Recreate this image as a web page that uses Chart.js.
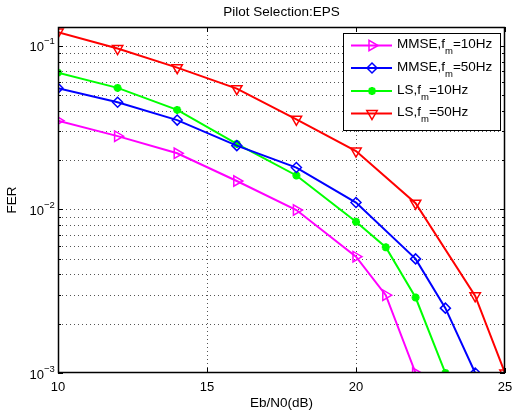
<!DOCTYPE html>
<html>
<head>
<meta charset="utf-8">
<script src="https://cdn.jsdelivr.net/npm/chart.js@4"></script>
<style>
  body { margin: 0; background: #fff; }
  #wrap { width: 513px; height: 417px; }
</style>
</head>
<body>
<div id="wrap"><canvas id="ferChart" width="513" height="417"></canvas></div>
<script>
// values
const ebn0Mmse10 = [10, 12, 14, 16, 18, 20, 21, 22];
const ferMmse10 = [0.0348, 0.028, 0.022, 0.0149, 0.0099, 0.00514, 0.00299, 0.001];
const ebn0Mmse50 = [10, 12, 14, 16, 18, 20, 22, 23, 24];
const ferMmse50 = [0.055, 0.0451, 0.0351, 0.0245, 0.018, 0.011, 0.00498, 0.00249, 0.001];
const ebn0Ls10 = [10, 12, 14, 16, 18, 20, 21, 22, 23];
const ferLs10 = [0.0684, 0.0552, 0.0405, 0.0251, 0.0161, 0.0084, 0.00587, 0.00289, 0.001];
const ebn0Ls50 = [10, 12, 14, 16, 18, 20, 22, 24, 25];
const ferLs50 = [0.121, 0.096, 0.0734, 0.0546, 0.0355, 0.0227, 0.0109, 0.00296, 0.001];

const xTicks = [10, 15, 20, 25];
const yDecades = [-3, -2, -1];
const seriesNames = ['MMSE', 'MMSE', 'LS', 'LS'];
const seriesFreq = ['10Hz', '50Hz', '10Hz', '50Hz'];

const FONT = '"Liberation Sans", Arial, sans-serif';

const toPoints = (xs, ys) => xs.map((x, i) => ({ x: x, y: ys[i] }));

const mkSet = (xs, ys, color, style, rot, radius) => ({
    data: toPoints(xs, ys),
    borderColor: color,
    backgroundColor: 'rgba(0,0,0,0)',
    borderWidth: 2,
    pointStyle: style,
    pointRotation: rot,
    pointRadius: radius,
    pointBorderColor: color,
    pointBackgroundColor: 'rgba(0,0,0,0)',
    pointBorderWidth: 1.5,
    tension: 0
});

const datasets = [
    mkSet(ebn0Mmse10, ferMmse10, '#ff00ff', 'triangle', 90, 6),
    mkSet(ebn0Mmse50, ferMmse50, '#0000ff', 'rectRot', 0, 5),
    mkSet(ebn0Ls10, ferLs10, '#00ff00', 'star', 0, 4),
    mkSet(ebn0Ls50, ferLs50, '#ff0000', 'triangle', 180, 6)
];
datasets[2].pointBorderWidth = 2.5;

// grid, box, ticks and labels done by hand, MATLAB style
const matlabAxes = {
    id: 'matlabAxes',
    beforeDatasetsDraw(chart) {
        const ctx = chart.ctx;
        const a = chart.chartArea;
        const xs = chart.scales.x, ys = chart.scales.y;
        ctx.save();
        ctx.strokeStyle = '#555';
        ctx.lineWidth = 1;
        ctx.setLineDash([1, 3]);
        xTicks.slice(1, -1).forEach(v => {
            const px = Math.round(xs.getPixelForValue(v)) + 0.5;
            ctx.beginPath(); ctx.moveTo(px, a.top); ctx.lineTo(px, a.bottom); ctx.stroke();
        });
        yDecades.forEach(d => {
            for (let k = 1; k <= 9; k++) {
                const v = k * Math.pow(10, d);
                if (v <= ys.min || v >= ys.max) continue;
                const py = Math.round(ys.getPixelForValue(v)) + 0.5;
                ctx.beginPath(); ctx.moveTo(a.left, py); ctx.lineTo(a.right, py); ctx.stroke();
            }
        });
        ctx.restore();
    },
    afterDraw(chart) {
        const ctx = chart.ctx;
        const a = chart.chartArea;
        const xs = chart.scales.x, ys = chart.scales.y;
        ctx.save();
        ctx.strokeStyle = '#000';
        ctx.lineWidth = 1.5;
        ctx.strokeRect(a.left + 0.5, a.top + 0.5, a.right - a.left - 1, a.bottom - a.top - 1);
        ctx.lineWidth = 1;
        ctx.beginPath();
        xTicks.forEach(v => {
            const px = Math.round(xs.getPixelForValue(v)) + 0.5;
            ctx.moveTo(px, a.bottom); ctx.lineTo(px, a.bottom - 5);
            ctx.moveTo(px, a.top); ctx.lineTo(px, a.top + 5);
        });
        yDecades.forEach(d => {
            for (let k = 1; k <= 9; k++) {
                const v = k * Math.pow(10, d);
                if (v < ys.min || v > ys.max) continue;
                const py = Math.round(ys.getPixelForValue(v)) + 0.5;
                const len = k == 1 ? 5 : 3;
                ctx.moveTo(a.left, py); ctx.lineTo(a.left + len, py);
                ctx.moveTo(a.right, py); ctx.lineTo(a.right - len, py);
            }
        });
        ctx.stroke();

        ctx.fillStyle = '#000';
        ctx.font = '13px ' + FONT;
        ctx.textAlign = 'center';
        ctx.textBaseline = 'middle';
        xTicks.forEach(v => {
            ctx.fillText(String(v), xs.getPixelForValue(v), a.bottom + 14);
        });
        yDecades.forEach(d => {
            const py = ys.getPixelForValue(Math.pow(10, d));
            ctx.font = '13px ' + FONT;
            ctx.textAlign = 'right';
            ctx.fillText('10', 44, py + 2);
            ctx.font = '9.5px ' + FONT;
            ctx.textAlign = 'left';
            ctx.fillText('\u2212' + Math.abs(d), 44, py - 4);
        });
        ctx.font = '13.5px ' + FONT;
        ctx.textAlign = 'center';
        ctx.fillText('Eb/N0(dB)', (a.left + a.right) / 2, a.bottom + 30);
        ctx.fillText('Pilot Selection:EPS', (a.left + a.right) / 2, 12);
        ctx.save();
        ctx.translate(12, (a.top + a.bottom) / 2);
        ctx.rotate(-Math.PI / 2);
        ctx.fillText('FER', 0, 0);
        ctx.restore();

        // legend
        const lx = 343, ly = 33, lw = 157, lh = 97;
        ctx.fillStyle = '#fff';
        ctx.fillRect(lx, ly, lw, lh);
        ctx.strokeStyle = '#000';
        ctx.lineWidth = 1;
        ctx.strokeRect(lx + 0.5, ly + 0.5, lw, lh);
        const rows = [45.5, 68, 91, 113.5];
        chart.data.datasets.forEach((ds, i) => {
            const ry = rows[i];
            ctx.strokeStyle = ds.borderColor;
            ctx.lineWidth = 2;
            ctx.beginPath(); ctx.moveTo(351, ry); ctx.lineTo(392, ry); ctx.stroke();
            ctx.fillStyle = 'rgba(0,0,0,0)';
            ctx.lineWidth = ds.pointBorderWidth;
            Chart.helpers.drawPoint(ctx, {
                pointStyle: ds.pointStyle, rotation: ds.pointRotation,
                radius: ds.pointRadius, borderWidth: ds.pointBorderWidth
            }, 372, ry);
            ctx.fillStyle = '#000';
            ctx.textAlign = 'left';
            ctx.textBaseline = 'middle';
            ctx.font = '13.5px ' + FONT;
            let tx = 397;
            const head = seriesNames[i] + ',f';
            ctx.fillText(head, tx, ry - 1);
            tx += ctx.measureText(head).width;
            ctx.font = '9.5px ' + FONT;
            ctx.fillText('m', tx, ry + 6);
            tx += ctx.measureText('m').width;
            ctx.font = '13.5px ' + FONT;
            ctx.fillText('=' + seriesFreq[i], tx, ry - 1);
        });
        ctx.restore();
    }
};

new Chart(document.getElementById('ferChart'), {
    type: 'line',
    data: { datasets: datasets },
    options: {
        responsive: false,
        animation: false,
        events: [],
        layout: { padding: { left: 58, right: 8, top: 27, bottom: 44 } },
        plugins: { legend: { display: false }, title: { display: false }, tooltip: { enabled: false } },
        scales: {
            x: { type: 'linear', min: 10, max: 25, display: false },
            y: { type: 'logarithmic', min: 0.001, max: 0.13, display: false }
        }
    },
    plugins: [matlabAxes]
});
</script>
</body>
</html>
